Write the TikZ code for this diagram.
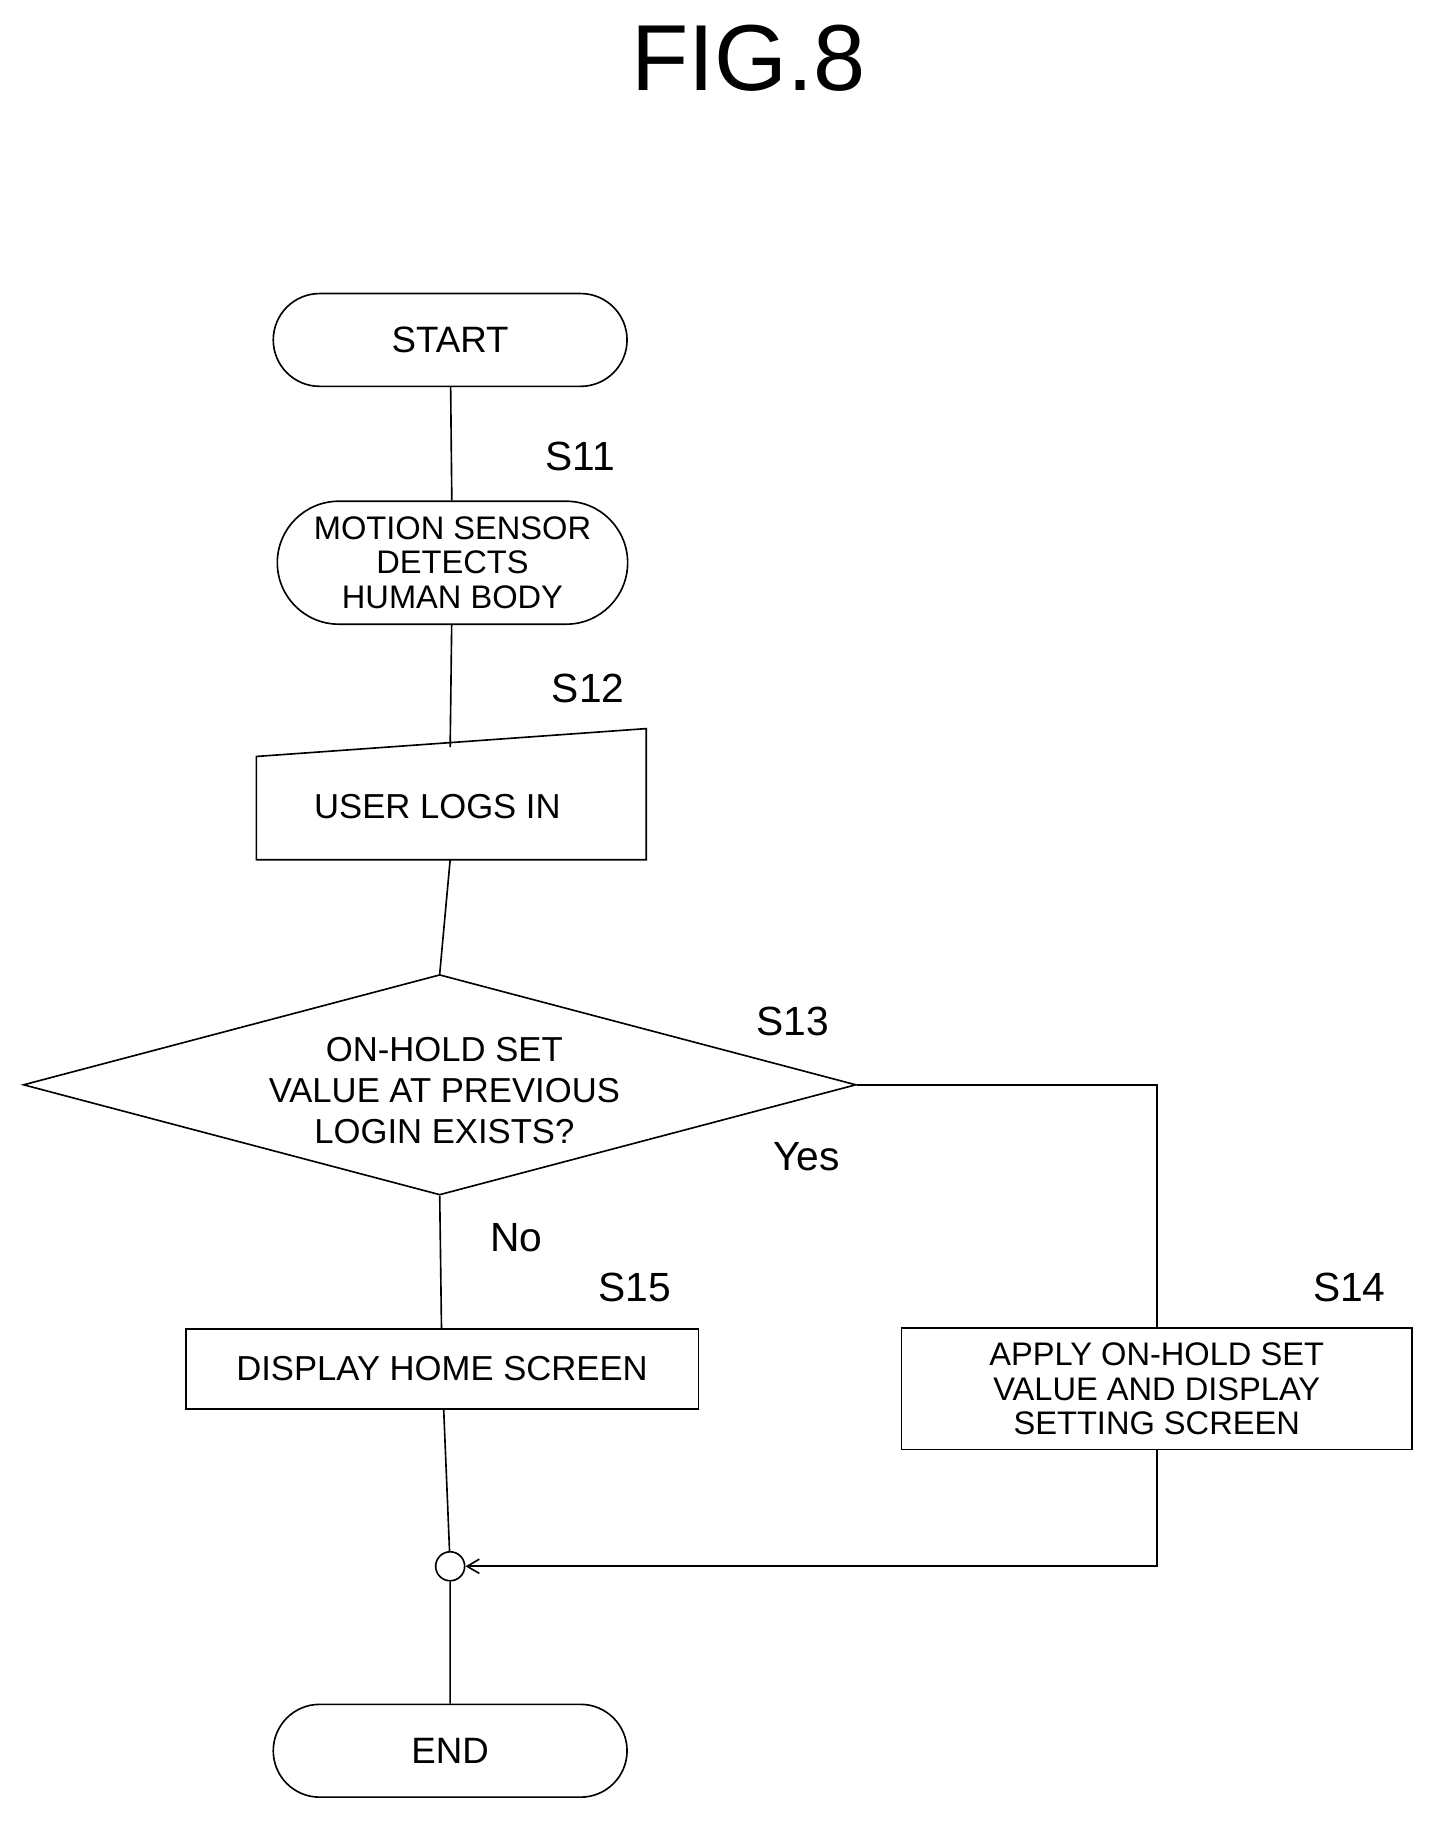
\documentclass[tikz,border=0pt]{standalone}
\usetikzlibrary{shapes.misc,shapes.geometric,arrows.meta}
\usepackage{fontspec}
\setmainfont{Liberation Sans}
\begin{document}
\begin{tikzpicture}[x=0.02cm,y=-0.02cm,
  ln/.style={line width=0.8pt},
  term/.style={draw,ln,rounded rectangle,inner sep=0pt,font=\fontsize{18}{20}\selectfont},
  box/.style={draw,ln,inner sep=0pt,font=\fontsize{17}{18}\selectfont,align=center},
  lab/.style={font=\fontsize{20}{22}\selectfont}]
\useasboundingbox (0,0) rectangle (1240,1573);
\node[font=\fontsize{46}{50}\selectfont] (title) at (645,50) {FIG.8};
\node[term,minimum width=6.1cm,minimum height=1.6cm] (start) at (388,293) {START};
\node[lab] (l11) at (500,393) {S11};
\node[term,minimum width=6.04cm,minimum height=2.12cm,align=center,font=\fontsize{16}{17}\selectfont] (s11) at (390,485) {MOTION SENSOR\\DETECTS\\HUMAN BODY};
\node[lab] (l12) at (507,593) {S12};
\coordinate (s12t) at (388,644);
\draw[ln] (221,652) -- (557,628) -- (557,741) -- (221,741) -- cycle;
\node[font=\fontsize{17}{18}\selectfont] (s12) at (377,695) {USER LOGS IN};
\coordinate (s12b) at (388,741);
\node[draw,ln,diamond,aspect=3.78,inner sep=0pt,minimum width=14.36cm,minimum height=3.8cm] (d) at (379,935) {};
\node[align=center,font=\fontsize{17}{20}\selectfont] (dt) at (383,940) {ON-HOLD SET\\VALUE AT PREVIOUS\\LOGIN EXISTS?};
\node[lab] (l13) at (683,880) {S13};
\node[lab] (yes) at (695,997) {Yes};
\node[lab] (no) at (445,1067) {No};
\node[lab] (l15) at (547,1110) {S15};
\node[lab] (l14) at (1163,1110) {S14};
\node[box,minimum width=8.84cm,minimum height=1.38cm] (s15) at (381,1180) {DISPLAY HOME SCREEN};
\node[box,minimum width=8.8cm,minimum height=2.1cm,font=\fontsize{16}{17}\selectfont] (s14) at (997,1197) {APPLY ON-HOLD SET\\VALUE AND DISPLAY\\SETTING SCREEN};
\node[draw,ln,circle,minimum size=0.5cm,inner sep=0pt] (j) at (388,1350) {};
\node[term,minimum width=6.1cm,minimum height=1.6cm] (end) at (388,1509) {END};
\draw[ln] (start) -- (s11);
\draw[ln] (s11) -- (s12t);
\draw[ln] (s12b) -- (d.north);
\draw[ln] (d.south) -- (s15);
\draw[ln] (d.east) -| (s14.north);
\draw[ln] (s15) -- (j);
\draw[ln,-{Straight Barb[length=6pt,width=7pt]}] (s14.south) |- (j.east);
\draw[ln] (j) -- (end);
\end{tikzpicture}
\end{document}
